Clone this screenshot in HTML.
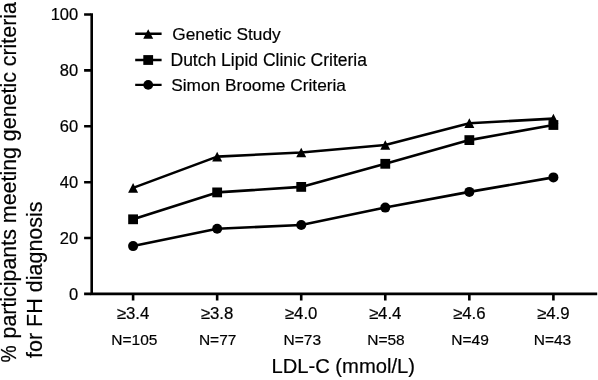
<!DOCTYPE html>
<html><head><meta charset="utf-8"><style>
html,body{margin:0;padding:0;background:#fff;width:598px;height:380px;overflow:hidden}
svg{display:block;will-change:transform}
text{font-family:"Liberation Sans",sans-serif;fill:#000;stroke:#000;stroke-width:0.2px}
</style></head><body>
<svg width="598" height="380" viewBox="0 0 598 380">
<g stroke="#000" stroke-width="2.6" fill="none" stroke-linecap="butt">
<path d="M91.7 13.2 V295.2 M90.4 293.9 H597.2"/>
<path d="M84.1 14.5 H91 M84.1 70.4 H91 M84.1 126.3 H91 M84.1 182.2 H91 M84.1 238.0 H91 M84.1 293.9 H91"/>
<path d="M133.1 293 V300.6 M217.16 293 V300.6 M301.22 293 V300.6 M385.28 293 V300.6 M469.34 293 V300.6 M553.4 293 V300.6"/>
</g>
<g font-size="16.5" text-anchor="end">
<text x="78.2" y="20.4">100</text>
<text x="78.2" y="76.3">80</text>
<text x="78.2" y="132.2">60</text>
<text x="78.2" y="188.1">40</text>
<text x="78.2" y="243.9">20</text>
<text x="78.2" y="299.8">0</text>
</g>
<g font-size="16.8" text-anchor="middle">
<text x="133.00" y="318.9">≥3.4</text>
<text x="217.06" y="318.9">≥3.8</text>
<text x="301.12" y="318.9">≥4.0</text>
<text x="385.18" y="318.9">≥4.4</text>
<text x="469.24" y="318.9">≥4.6</text>
<text x="553.30" y="318.9">≥4.9</text>
</g>
<g font-size="15.5" text-anchor="middle">
<text x="134.40" y="345.4">N=105</text>
<text x="217.66" y="345.4">N=77</text>
<text x="302.32" y="345.4">N=73</text>
<text x="385.98" y="345.4">N=58</text>
<text x="470.04" y="345.4">N=49</text>
<text x="552.50" y="345.4">N=43</text>
</g>
<text x="343.2" y="373.4" font-size="20.2" text-anchor="middle">LDL-C (mmol/L)</text>
<text transform="translate(16.2,362.5) rotate(-90) scale(0.9,1)" font-size="21.4">%</text>
<text transform="translate(16.2,338.5) rotate(-90)" font-size="21.4">participants meeting genetic criteria</text>
<text transform="translate(41.6,279.7) rotate(-90)" font-size="21.5" text-anchor="middle">for FH diagnosis</text>

<!-- data lines -->
<g stroke="#000" stroke-width="2.6" fill="none" stroke-linejoin="round">
<polyline points="133.1,187.9 217.16,156.6 301.22,152.5 385.28,145 469.34,123.2 553.4,118.6"/>
<polyline points="133.1,219.3 217.16,192.4 301.22,186.9 385.28,163.8 469.34,140.1 553.4,125"/>
<polyline points="133.1,246.1 217.16,228.8 301.22,225 385.28,207.6 469.34,191.9 553.4,177.4"/>
</g>
<g fill="#000">
<!-- triangles: width 10, height 9.7 centered -->
<path d="M133.1 183.05 L138.1 192.75 L128.1 192.75Z M217.16 151.75 L222.16 161.45 L212.16 161.45Z M301.22 147.65 L306.22 157.35 L296.22 157.35Z M385.28 140.15 L390.28 149.85 L380.28 149.85Z M469.34 118.35 L474.34 128.05 L464.34 128.05Z M553.4 113.75 L558.4 123.45 L548.4 123.45Z"/>
<!-- squares -->
<rect x="128.2" y="214.4" width="9.8" height="9.8"/>
<rect x="212.26" y="187.5" width="9.8" height="9.8"/>
<rect x="296.32" y="182" width="9.8" height="9.8"/>
<rect x="380.38" y="158.9" width="9.8" height="9.8"/>
<rect x="464.44" y="135.2" width="9.8" height="9.8"/>
<rect x="548.5" y="120.1" width="9.8" height="9.8"/>
<!-- circles -->
<circle cx="133.1" cy="246.1" r="5"/>
<circle cx="217.16" cy="228.8" r="5"/>
<circle cx="301.22" cy="225" r="5"/>
<circle cx="385.28" cy="207.6" r="5"/>
<circle cx="469.34" cy="191.9" r="5"/>
<circle cx="553.4" cy="177.4" r="5"/>
</g>

<!-- legend -->
<g stroke="#000" stroke-width="2.4">
<path d="M135.2 33.7 H161.6 M135.2 60 H161.6 M135.2 84.9 H161.6"/>
</g>
<g fill="#000">
<path d="M148.2 29.2 L153.2 38.8 L143.2 38.8Z"/>
<rect x="143.3" y="55.1" width="9.8" height="9.8"/>
<circle cx="148.2" cy="84.9" r="4.9"/>
</g>
<g font-size="17.3">
<text x="172.2" y="39.8">Genetic Study</text>
<text x="170.5" y="66" font-size="17.5">Dutch Lipid Clinic Criteria</text>
<text x="171.2" y="91.3">Simon Broome Criteria</text>
</g>
</svg>
</body></html>
